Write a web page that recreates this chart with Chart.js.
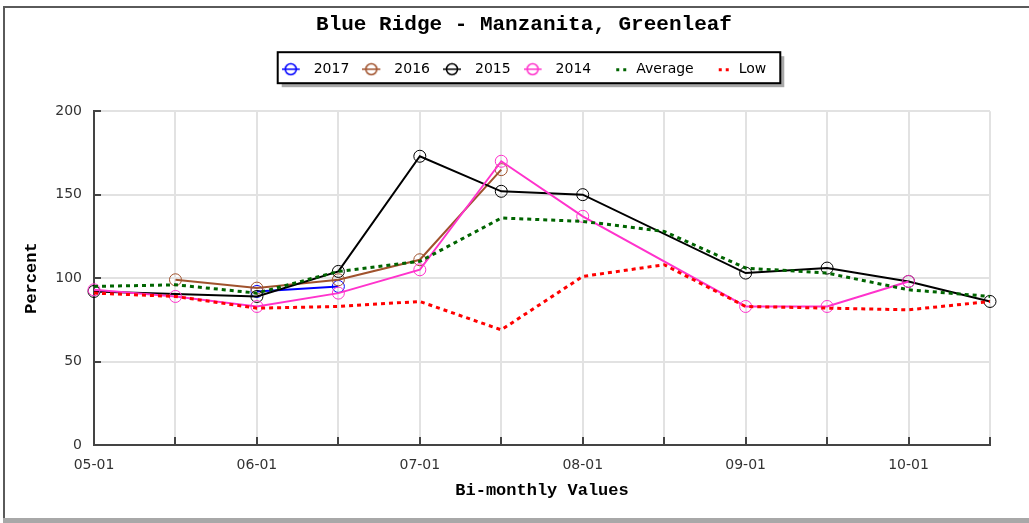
<!DOCTYPE html>
<html>
<head>
<meta charset="utf-8">
<title>Blue Ridge - Manzanita, Greenleaf</title>
<script src="https://cdn.jsdelivr.net/npm/chart.js@4.4.1/dist/chart.umd.min.js"></script>
<style>
    body { margin: 0; background: #fff; }
    #wrap { position: relative; width: 1029px; height: 523px; overflow: hidden; }
    #frame { position: absolute; left: 3px; top: 6px; width: 1100px; height: 520px;
             border-left: 2px solid #5a5a5a; border-top: 2px solid #5a5a5a; }
    #bar { position: absolute; left: 3px; top: 518px; width: 1100px; height: 5px; background: #a8a8a8; }
    #chart { position: absolute; left: 0; top: 0; }
</style>
</head>
<body>
<div id="wrap">
    <div id="frame"></div>
    <div id="bar"></div>
    <canvas id="chart" width="1029" height="523"></canvas>
</div>
<script>
// Categories (bi-monthly dates)
const categories = ["05-01", "05-15", "06-01", "06-15", "07-01", "07-15",
                    "08-01", "08-15", "09-01", "09-15", "10-01", "10-15"];

// Series values (percent), null = no reading
const y2017 = [null, null, 92, 95, null, null, null, null, null, null, null, null];
const y2016 = [null, 99, 94, 99, 111, 165, null, null, null, null, null, null];
const y2015 = [92, null, 89, 104, 173, 152, 150, null, 103, 106, 98, 86];
const y2014 = [93, 89, 83, 91, 105, 170, 137, null, 83, 83, 98, null];
const average = [95, 96, 91, 104, 110, 136, 134, 128, 106, 103, 93, 89];
const low = [91, 89, 82, 83, 86, 69, 101, 108, 83, 82, 81, 86];

// Y axis ticks
const yTicks = [0, 50, 100, 150, 200];

// Legend icons: line with a circle, or a short dotted line
function markerIcon(color) {
    const c = document.createElement("canvas");
    c.width = 25; c.height = 14;
    const g = c.getContext("2d");
    g.strokeStyle = color;
    g.lineWidth = 1.5;
    g.beginPath(); g.moveTo(0, 7); g.lineTo(18, 7); g.stroke();
    g.beginPath(); g.arc(9, 7, 5.5, 0, Math.PI * 2); g.stroke();
    return c;
}
function dotsIcon(color) {
    const c = document.createElement("canvas");
    c.width = 25; c.height = 14;
    const g = c.getContext("2d");
    g.fillStyle = color;
    g.fillRect(12, 6, 3, 3);
    g.fillRect(19, 6, 3, 3);
    return c;
}

function yearSet(label, data, color, order) {
    return {
        label: label,
        data: data,
        borderColor: color,
        backgroundColor: color,
        borderWidth: 2,
        pointRadius: 6,
        pointBorderWidth: 1,
        pointBackgroundColor: "rgba(0,0,0,0)",
        pointBorderColor: color,
        pointStyle: "circle",
        spanGaps: true,
        tension: 0,
        order: order,
        icon: markerIcon(color)
    };
}
function dottedSet(label, data, color, order) {
    return {
        label: label,
        data: data,
        borderColor: color,
        backgroundColor: color,
        borderWidth: 3,
        borderDash: [4, 4],
        pointRadius: 0,
        tension: 0,
        order: order,
        icon: dotsIcon(color)
    };
}

const datasets = [
    yearSet("2017", y2017, "#0000ff", 5),
    yearSet("2016", y2016, "#a0522d", 4),
    yearSet("2015", y2015, "#000000", 3),
    yearSet("2014", y2014, "#ff33cc", 2),
    dottedSet("Average", average, "#006400", 1),
    dottedSet("Low", low, "#ff0000", 0)
];

// Frame with drop shadow behind the legend items
const legendBox = {
    id: "legendBox",
    beforeDraw(chart) {
        const lg = chart.legend;
        if (!lg || !lg.lineWidths) return;
        const pad = lg.options.labels.padding;
        const start = (lg.left + pad + lg.right - lg.lineWidths[0]) / 2;
        const x = start - 4;
        const w = lg.lineWidths[0] - pad + 18;
        const y = lg.top + pad - 10;
        const h = 31;
        const ctx = chart.ctx;
        ctx.save();
        ctx.fillStyle = "#a8a8a8";
        ctx.fillRect(x + 4, y + 4, w, h);
        ctx.fillStyle = "#fff";
        ctx.fillRect(x, y, w, h);
        ctx.strokeStyle = "#000";
        ctx.lineWidth = 2;
        ctx.strokeRect(x, y, w, h);
        ctx.restore();
    }
};

// Short tick marks pointing into the plot
const innerTicks = {
    id: "innerTicks",
    afterDraw(chart) {
        const ctx = chart.ctx;
        const xs = chart.scales.x;
        const ys = chart.scales.y;
        const area = chart.chartArea;
        ctx.save();
        ctx.strokeStyle = "#444";
        ctx.lineWidth = 2;
        ctx.beginPath();
        xs.ticks.forEach((t, i) => {
            const px = Math.round(xs.getPixelForTick(i));
            ctx.moveTo(px, area.bottom);
            ctx.lineTo(px, area.bottom - 8);
        });
        ys.ticks.forEach((t, i) => {
            const py = Math.round(ys.getPixelForTick(i));
            ctx.moveTo(area.left, py);
            ctx.lineTo(area.left + 7, py);
        });
        ctx.stroke();
        ctx.restore();
    }
};

const ctx = document.getElementById("chart").getContext("2d");
new Chart(ctx, {
    type: "line",
    data: { labels: categories, datasets: datasets },
    plugins: [legendBox, innerTicks],
    options: {
        responsive: false,
        animation: false,
        devicePixelRatio: 1,
        layout: { padding: { left: 19, right: 0, top: 0, bottom: 0 } },
        plugins: {
            title: {
                display: true,
                text: "Blue Ridge - Manzanita, Greenleaf",
                color: "#000",
                font: { family: "Liberation Mono", size: 21, weight: "bold", lineHeight: 1.2 },
                padding: { top: 12, bottom: 12 }
            },
            // empty subtitle used as a gap between legend and plot
            subtitle: {
                display: true,
                text: "",
                weight: 500,
                font: { size: 1, lineHeight: 1 },
                padding: { top: 24, bottom: 0 }
            },
            legend: {
                display: true,
                position: "top",
                labels: {
                    color: "#000",
                    font: { family: "DejaVu Sans", size: 14 },
                    usePointStyle: true,
                    pointStyleWidth: 25,
                    padding: 13,
                    sort: (a, b) => a.datasetIndex - b.datasetIndex,
                    generateLabels(chart) {
                        const items = Chart.defaults.plugins.legend.labels.generateLabels(chart);
                        items.forEach((it) => {
                            it.pointStyle = chart.data.datasets[it.datasetIndex].icon;
                        });
                        return items;
                    }
                }
            },
            tooltip: { enabled: false }
        },
        scales: {
            x: {
                type: "category",
                offset: false,
                grid: { color: "#e2e2e2", lineWidth: 2, drawTicks: false },
                border: { color: "#444", width: 2 },
                ticks: {
                    autoSkip: false,
                    maxRotation: 0,
                    padding: 12,
                    color: "#333",
                    font: { family: "DejaVu Sans", size: 14 },
                    callback: function (val, i) { return i % 2 === 0 ? categories[i] : ""; }
                },
                title: {
                    display: true,
                    text: "Bi-monthly Values",
                    color: "#000",
                    font: { family: "Liberation Mono", size: 17, weight: "bold", lineHeight: 1.2 },
                    padding: { top: 0, bottom: 22 }
                },
                afterFit: (scale) => { scale.height = 78; }
            },
            y: {
                min: yTicks[0],
                max: yTicks[yTicks.length - 1],
                grid: { color: "#e2e2e2", lineWidth: 2, drawTicks: false },
                border: { color: "#444", width: 2 },
                afterBuildTicks: (scale) => { scale.ticks = yTicks.map((v) => ({ value: v })); },
                ticks: {
                    padding: 12,
                    color: "#333",
                    font: { family: "DejaVu Sans", size: 14 }
                },
                title: {
                    display: true,
                    text: "Percent",
                    color: "#000",
                    font: { family: "Liberation Mono", size: 17, weight: "bold", lineHeight: 1.2 },
                    padding: { top: 3, bottom: 0 }
                },
                afterFit: (scale) => { scale.width = 75; }
            },
            // empty right axis only keeps the plot's right edge in place
            yRight: {
                position: "right",
                display: true,
                grid: { display: false },
                border: { display: false },
                ticks: { display: false },
                afterFit: (scale) => { scale.width = 39; }
            }
        }
    }
});
</script>
</body>
</html>
